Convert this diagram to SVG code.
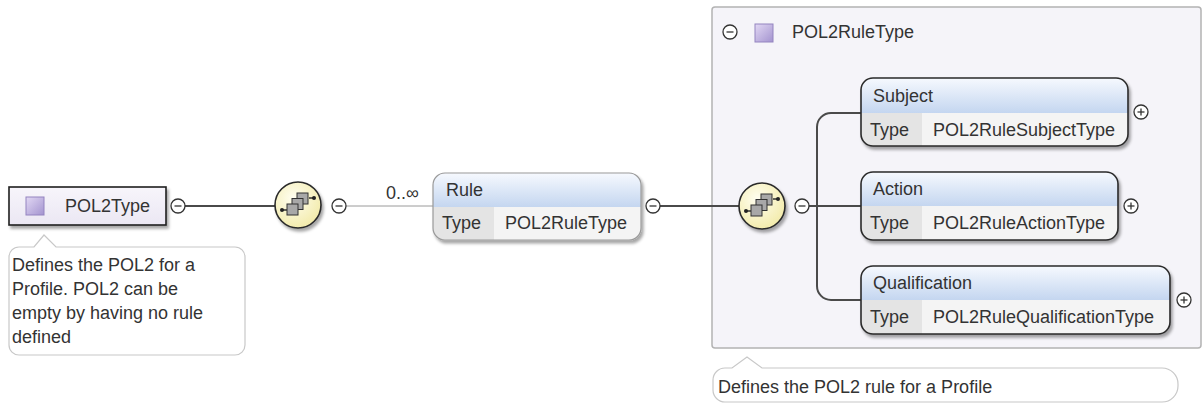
<svg xmlns="http://www.w3.org/2000/svg" width="1203" height="403" viewBox="0 0 1203 403">
<style>
text{font-family:"Liberation Sans",Arial,sans-serif;font-size:18px;fill:#333}
.ln{stroke:#4a4a4a;stroke-width:2;fill:none}
.thin{stroke:#9a9a9a;stroke-width:1;fill:none}
.tip{fill:#fff;stroke:#c8c8c8;stroke-width:1.2}
.eb{fill:none;stroke:#2a2a2a;stroke-width:1.6}
.ebl{fill:none;stroke:#9a9a9a;stroke-width:1.2}
.val{fill:#f4f4f4}
.lab{fill:#e4e4e4}
.hd{fill:url(#hdr)}
.pm{fill:#fff;stroke:#333;stroke-width:1.3}
.pml{stroke:#333;stroke-width:1.3}
</style>
<defs>
<linearGradient id="hdr" x1="0" y1="0" x2="0" y2="1"><stop offset="0" stop-color="#f6f9fe"/><stop offset="1" stop-color="#c4d6f0"/></linearGradient>
<linearGradient id="purple" x1="0" y1="0" x2="1" y2="1"><stop offset="0" stop-color="#e2d8f4"/><stop offset="1" stop-color="#a393cf"/></linearGradient>
<linearGradient id="tbox" x1="0" y1="0" x2="0" y2="1"><stop offset="0" stop-color="#f7f5fb"/><stop offset="1" stop-color="#ebe7f3"/></linearGradient>
<linearGradient id="sep" x1="0" y1="0" x2="1" y2="0"><stop offset="0" stop-color="#d0d0d0" stop-opacity="0.3"/><stop offset="0.1" stop-color="#c4c4c4"/><stop offset="0.9" stop-color="#c4c4c4"/><stop offset="1" stop-color="#d0d0d0" stop-opacity="0.3"/></linearGradient>
<radialGradient id="seq" cx="0.4" cy="0.35" r="0.7"><stop offset="0" stop-color="#fffef0"/><stop offset="1" stop-color="#f2eaa8"/></radialGradient>
<filter id="sh" x="-10%" y="-10%" width="130%" height="140%"><feDropShadow dx="2" dy="3" stdDeviation="1.5" flood-color="#000" flood-opacity="0.35"/></filter>
<g id="seqicon">
<circle r="23" fill="url(#seq)" stroke="#2a2a2a" stroke-width="1.6"/>
<line x1="-16" y1="5" x2="-11" y2="5" stroke="#222" stroke-width="1.4"/>
<circle cx="-16" cy="5" r="2" fill="#222"/>
<line x1="11" y1="-7" x2="16" y2="-7" stroke="#222" stroke-width="1.4"/>
<circle cx="16" cy="-7" r="2" fill="#222"/>
<rect x="-1" y="-12" width="11" height="11" fill="#a8a8a8" stroke="#333" stroke-width="1"/>
<rect x="-6" y="-6.5" width="11" height="11" fill="#a8a8a8" stroke="#333" stroke-width="1"/>
<rect x="-11" y="-1" width="11" height="11" fill="#a8a8a8" stroke="#333" stroke-width="1"/>
</g>
<g id="minus"><circle r="7" class="pm"/><line x1="-3.5" y1="0" x2="3.5" y2="0" class="pml"/></g>
<g id="plus"><circle r="7" class="pm"/><line x1="-3.5" y1="0" x2="3.5" y2="0" class="pml"/><line x1="0" y1="-3.5" x2="0" y2="3.5" class="pml"/></g>
<clipPath id="cRule"><rect x="433" y="173" width="208" height="67" rx="12"/></clipPath>
<clipPath id="cSub"><rect x="861" y="78" width="267" height="68" rx="12"/></clipPath>
<clipPath id="cAct"><rect x="861" y="172" width="257" height="68" rx="12"/></clipPath>
<clipPath id="cQual"><rect x="861" y="266" width="309" height="68" rx="12"/></clipPath>
</defs>

<rect width="1203" height="403" fill="#fff"/>

<g id="frame">
<rect x="712" y="7" width="489" height="341" rx="3" fill="#f5f4f9" stroke="#b3b3b3" stroke-width="1.5"/>
<use href="#minus" x="730" y="32"/>
<rect x="755" y="24" width="18" height="18" fill="url(#purple)" stroke="#9484c0" stroke-width="1"/>
<text x="792" y="38">POL2RuleType</text>
<line x1="727" y1="57" x2="1090" y2="57" stroke="url(#sep)" stroke-width="2.5"/>
</g>

<g id="connectors">
<line class="ln" x1="185" y1="206" x2="275" y2="206"/>
<line class="thin" x1="346" y1="206" x2="433" y2="206"/>
<line class="ln" x1="660" y1="206" x2="739" y2="206"/>
<line class="ln" x1="809" y1="206" x2="861" y2="206"/>
<path class="ln" d="M861,113 H831 A14,14 0 0 0 817,127 V286 A14,14 0 0 0 831,300 H861"/>
</g>

<g id="pol2type">
<rect x="9" y="187" width="157" height="38" fill="url(#tbox)" stroke="#1e1e1e" stroke-width="1.6" filter="url(#sh)"/>
<rect x="26" y="197" width="18" height="18" fill="url(#purple)" stroke="#9484c0" stroke-width="1"/>
<text x="65" y="212">POL2Type</text>
<use href="#minus" x="178" y="206"/>
</g>

<g id="tip1">
<path class="tip" d="M19,247 H34 L44,235 L56,247 H235 A10,10 0 0 1 245,257 V345 A10,10 0 0 1 235,355 H19 A10,10 0 0 1 9,345 V257 A10,10 0 0 1 19,247 Z"/>
<text x="12" y="271">Defines the POL2 for a</text>
<text x="12" y="295">Profile. POL2 can be</text>
<text x="12" y="319">empty by having no rule</text>
<text x="12" y="343">defined</text>
</g>

<g id="seq1">
<use href="#seqicon" x="298" y="205" filter="url(#sh)"/>
<use href="#minus" x="339" y="206"/>
</g>

<g id="rule">
<text x="386" y="199">0..∞</text>
<g filter="url(#sh)">
<rect x="433" y="173" width="208" height="67" rx="12" class="val"/>
<g clip-path="url(#cRule)">
<rect x="433" y="173" width="208" height="34" class="hd"/>
<rect x="433" y="207" width="61" height="33" class="lab"/>
</g>
<rect x="433" y="173" width="208" height="67" rx="12" class="ebl"/>
</g>
<text x="446" y="196">Rule</text>
<text x="442" y="229">Type</text>
<text x="505" y="229">POL2RuleType</text>
<use href="#minus" x="653" y="206"/>
</g>

<g id="seq2">
<use href="#seqicon" x="762" y="206" filter="url(#sh)"/>
<use href="#minus" x="802" y="206"/>
</g>

<g id="subject">
<g filter="url(#sh)">
<rect x="861" y="78" width="267" height="68" rx="12" class="val"/>
<g clip-path="url(#cSub)">
<rect x="861" y="78" width="267" height="35" class="hd"/>
<rect x="861" y="113" width="61" height="33" class="lab"/>
</g>
<rect x="861" y="78" width="267" height="68" rx="12" class="eb"/>
</g>
<text x="873" y="102">Subject</text>
<text x="870" y="136">Type</text>
<text x="933" y="136">POL2RuleSubjectType</text>
<use href="#plus" x="1141" y="112"/>
</g>

<g id="action">
<g filter="url(#sh)">
<rect x="861" y="172" width="257" height="68" rx="12" class="val"/>
<g clip-path="url(#cAct)">
<rect x="861" y="172" width="257" height="34" class="hd"/>
<rect x="861" y="206" width="61" height="34" class="lab"/>
</g>
<rect x="861" y="172" width="257" height="68" rx="12" class="eb"/>
</g>
<text x="873" y="195">Action</text>
<text x="870" y="229">Type</text>
<text x="933" y="229">POL2RuleActionType</text>
<use href="#plus" x="1131" y="206"/>
</g>

<g id="qualification">
<g filter="url(#sh)">
<rect x="861" y="266" width="309" height="68" rx="12" class="val"/>
<g clip-path="url(#cQual)">
<rect x="861" y="266" width="309" height="34" class="hd"/>
<rect x="861" y="300" width="61" height="34" class="lab"/>
</g>
<rect x="861" y="266" width="309" height="68" rx="12" class="eb"/>
</g>
<text x="873" y="289">Qualification</text>
<text x="870" y="323">Type</text>
<text x="933" y="323">POL2RuleQualificationType</text>
<use href="#plus" x="1184" y="300"/>
</g>

<g id="tip2">
<path class="tip" d="M725,368 H732 L747,357 L762,368 H1162 A16,16 0 0 1 1178,384 V386 A16,16 0 0 1 1162,402 H725 A12,12 0 0 1 713,390 V380 A12,12 0 0 1 725,368 Z"/>
<text x="718" y="393">Defines the POL2 rule for a Profile</text>
</g>
</svg>
